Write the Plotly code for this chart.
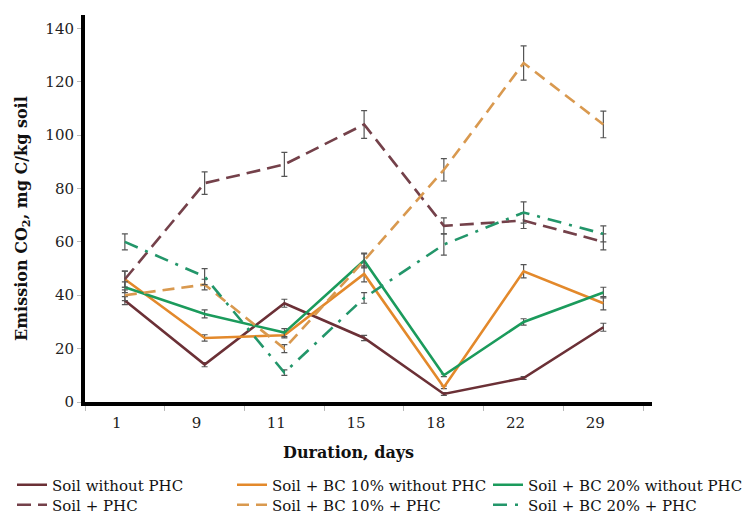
import plotly.graph_objects as go

days = ["1", "9", "11", "15", "18", "22", "29"]

soil = [38, 14, 37, 24, 3, 9, 28]
soil_err = [1.5, 0.8, 1.5, 1.0, 0.5, 0.5, 1.5]

bc10 = [46, 24, 25, 48, 5.5, 49, 37]
bc10_err = [3.0, 1.2, 1.0, 3.0, 0.5, 2.5, 2.5]

bc20 = [43, 33, 26, 53, 10, 30, 41]
bc20_err = [2.0, 1.5, 1.5, 2.8, 0.5, 1.2, 2.0]

soil_phc = [46, 82, 89, 104, 66, 68, 60]
soil_phc_err = [3.0, 4.2, 4.5, 5.2, 3.0, 3.0, 3.0]

bc10_phc = [40, 44, 20, 53, 87, 127, 104]
bc10_phc_err = [2.0, 2.0, 1.5, 2.5, 4.2, 6.4, 5.0]

bc20_phc = [60, 47, 11, 39, 59, 71, 63]
bc20_phc_err = [3.0, 3.0, 1.0, 2.0, 4.0, 4.0, 3.0]

names = ["Soil without PHC", "Soil + BC 10% without PHC", "Soil + BC 20% without PHC",
         "Soil + PHC", "Soil + BC 10% + PHC", "Soil + BC 20% + PHC"]

MAROON = "#6b3036"
MAROON_D = "#74414a"
ORANGE = "#e3892b"
ORANGE_D = "#d9994f"
GREEN = "#1b9b5c"
GREEN_D = "#23966a"

series = [
    (soil, soil_err, names[0], MAROON, "solid"),
    (bc10, bc10_err, names[1], ORANGE, "solid"),
    (bc20, bc20_err, names[2], GREEN, "solid"),
    (soil_phc, soil_phc_err, names[3], MAROON_D, "14px,7px"),
    (bc10_phc, bc10_phc_err, names[4], ORANGE_D, "12px,7px"),
    (bc20_phc, bc20_phc_err, names[5], GREEN_D, "14px,8px,3px,8px"),
]

FONT = "DejaVu Serif"

# The page draws the figure 8px in from the top-left corner, so the figure is
# sized 747x507 and the plot area is placed at (77..644, 7..394) in figure px.
PL, PR, PT, PB = 77, 644, 7, 394
W, H = 747, 507

def px_x(xref_px):   # reference page px -> paper x
    return (xref_px - 8 - PL) / (PR - PL)

def px_y(yref_px):   # reference page px -> paper y
    return (PB - (yref_px - 8)) / (PB - PT)

# legend text start (page px) and row centre (page px) for each entry
leg_x = [52, 272, 528, 52, 272, 528]
leg_y = [485, 485, 485, 505, 505, 505]

fig = go.Figure()
layout_legends = {}
for i, (vals, errs, name, color, dash) in enumerate(series):
    key = "legend" if i == 0 else f"legend{i + 1}"
    fig.add_trace(go.Scatter(
        x=days, y=vals, name=name, mode="lines",
        line=dict(color=color, width=2.6, dash=dash),
        error_y=dict(type="data", array=errs, visible=True,
                     color="#555555", thickness=1.2, width=3),
        legend=key, showlegend=True,
    ))
    layout_legends[key] = dict(
        x=px_x(leg_x[i] - 40), y=px_y(leg_y[i]),
        xanchor="left", yanchor="middle", orientation="v",
        font=dict(family=FONT, size=15, color="#111"),
        bgcolor="rgba(0,0,0,0)", visible=True,
    )

fig.update_layout(
    width=W, height=H, showlegend=True,
    margin=dict(l=PL, r=W - PR, t=PT, b=H - PB, autoexpand=False),
    paper_bgcolor="white", plot_bgcolor="white",
    font=dict(family=FONT, color="#222"),
    xaxis=dict(
        type="category", range=[-0.5, 6.61],
        showline=True, linecolor="black", linewidth=3.5,
        showgrid=False, zeroline=False,
        ticks="outside", tickson="boundaries", ticklen=5, tickcolor="#bbbbbb",
        tickfont=dict(family=FONT, size=15, color="#222"),
        ticklabelshift=-8, ticklabelstandoff=4,
    ),
    yaxis=dict(
        range=[0, 145], tickvals=[0, 20, 40, 60, 80, 100, 120, 140],
        showline=True, linecolor="black", linewidth=4,
        showgrid=False, zeroline=False,
        ticks="outside", ticklen=4, tickcolor="#bbbbbb",
        tickfont=dict(family=FONT, size=15, color="#222"),
    ),
    annotations=[
        dict(text="<b>Duration, days</b>", xref="paper", yref="paper",
             x=px_x(348), y=px_y(452), xanchor="center", yanchor="middle",
             showarrow=False, font=dict(family=FONT, size=16, color="#111")),
        dict(text="<b>Emission CO<sub>2</sub>, mg C/kg soil</b>", xref="paper", yref="paper",
             x=px_x(22), y=px_y(219), xanchor="center", yanchor="middle",
             textangle=-90, showarrow=False,
             font=dict(family=FONT, size=16, color="#111")),
    ],
    **layout_legends,
)

fig.write_html("out.html")
